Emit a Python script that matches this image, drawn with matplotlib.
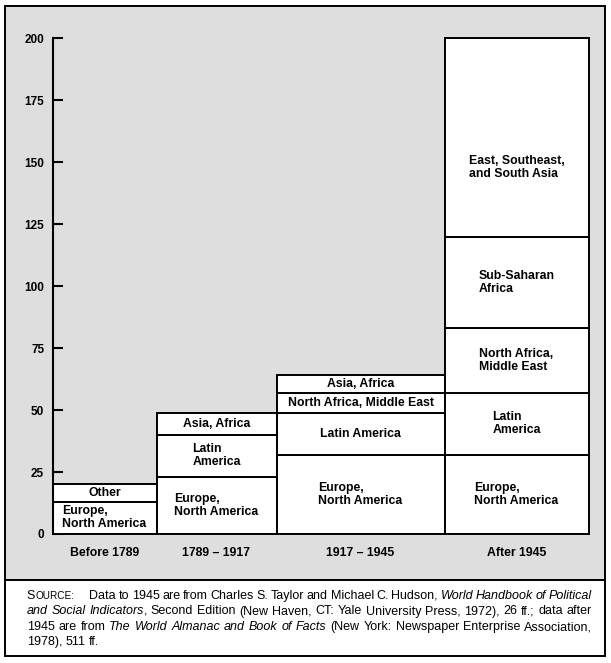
import matplotlib
matplotlib.use("Agg")
import matplotlib.pyplot as plt
from matplotlib.patches import Rectangle

# ── Data ────────────────────────────────────────────────────────────────
periods = ["Before 1789", "1789 – 1917", "1917 – 1945", "After 1945"]

labels_before_1789 = ["Europe,\nNorth America", "Other"]
counts_before_1789 = [13, 7]

labels_1789_1917 = ["Europe,\nNorth America", "Latin\nAmerica", "Asia, Africa"]
counts_1789_1917 = [23, 17, 9]

labels_1917_1945 = ["Europe,\nNorth America", "Latin America",
                    "North Africa, Middle East", "Asia, Africa"]
counts_1917_1945 = [32, 17, 8, 7]

labels_after_1945 = ["Europe,\nNorth America", "Latin\nAmerica", "North Africa,\nMiddle East",
                     "Sub-Saharan\nAfrica", "East, Southeast,\nand South Asia"]
counts_after_1945 = [32, 25, 26, 37, 80]

y_ticks = [0, 25, 50, 75, 100, 125, 150, 175, 200]

source_lines = [
    "Data to 1945 are from Charles S. Taylor and Michael C. Hudson, *World Handbook of Political*",
    "*and Social Indicators*, Second Edition (New Haven, CT: Yale University Press, 1972), 26 ff.; data after",
    "1945 are from *The World Almanac and Book of Facts* (New York: Newspaper Enterprise Association,",
    "1978), 511 ff.",
]

# ── Layout ──────────────────────────────────────────────────────────────
W, H = 611, 663
bar_widths = [104, 120, 168, 144]          # variable-width columns
label_frac = {(3, 4): 0.35}                 # label height inside segment (default middle)
LABEL_SIZE = 8.8
SRC_SIZE = 9.0

plt.rcParams["font.family"] = ["Liberation Sans", "DejaVu Sans"]

fig = plt.figure(figsize=(W / 100, H / 100), dpi=100)
fig.patch.set_facecolor("white")

# grey chart panel and white source panel
fig.patches.append(Rectangle((5 / W, 1 - 580 / H), 600 / W, 574 / H, transform=fig.transFigure,
                             facecolor="#dedede", edgecolor="black", lw=1.4, zorder=-2))
fig.patches.append(Rectangle((5 / W, 1 - 656 / H), 600 / W, 76 / H, transform=fig.transFigure,
                             facecolor="white", edgecolor="black", lw=1.4, zorder=-2))

ax = fig.add_axes([52.5 / W, 1 - 534 / H, sum(bar_widths) / W, (534 - 38.3) / H])
ax.set_facecolor("none")
ax.set_zorder(1)

all_counts = [counts_before_1789, counts_1789_1917, counts_1917_1945, counts_after_1945]
all_labels = [labels_before_1789, labels_1789_1917, labels_1917_1945, labels_after_1945]

centers = []
left = 0
for i, (counts, labels) in enumerate(zip(all_counts, all_labels)):
    w = bar_widths[i]
    bottom = 0
    for j, (c, lab) in enumerate(zip(counts, labels)):
        ax.bar(left, c, width=w, bottom=bottom, align="edge", color="white",
               edgecolor="black", lw=1.4, clip_on=False, zorder=2)
        frac = label_frac.get((i, j), 0.5)
        ax.text(left + w / 2, bottom + c * frac, lab, ha="center", va="center",
                multialignment="left", fontsize=LABEL_SIZE, fontweight="bold",
                linespacing=1.1, zorder=3)
        bottom += c
    centers.append(left + w / 2)
    left += w

ax.set_xlim(0, sum(bar_widths))
ax.set_ylim(0, 200)
ax.set_yticks(y_ticks)
ax.set_yticklabels([str(v) for v in y_ticks], fontweight="bold", fontsize=8.5)
ax.tick_params(axis="y", direction="in", length=7, width=1.5, pad=6)
ax.set_xticks(centers)
ax.set_xticklabels(periods, fontweight="bold", fontsize=LABEL_SIZE)
ax.tick_params(axis="x", length=0, pad=9)

for side in ["top", "right", "bottom"]:
    ax.spines[side].set_visible(False)
ax.spines["left"].set_linewidth(1.5)
ax.spines["left"].set_zorder(4)

# ── Source note (justified by hand) ─────────────────────────────────────
renderer = fig.canvas.get_renderer()


def parse(line):
    words, ital = [], False
    for raw in line.split(" "):
        pieces = []
        for k, part in enumerate(raw.split("*")):
            if k > 0:
                ital = not ital
            if part:
                pieces.append((part, ital))
        words.append(pieces)
    return words


def place_line(line, x0, x1, y, justify=True):
    items, widths = [], []
    for word in parse(line):
        texts, wsum = [], 0
        for piece, ital in word:
            t = fig.text(0, 1 - y / H, piece, fontsize=SRC_SIZE, va="baseline", ha="left",
                         style="italic" if ital else "normal")
            pw = t.get_window_extent(renderer).width
            texts.append((t, pw))
            wsum += pw
        items.append(texts)
        widths.append(wsum)
    if justify and len(items) > 1:
        gap = (x1 - x0 - sum(widths)) / (len(items) - 1)
    else:
        gap = 0.278 * SRC_SIZE * 100 / 72
    x = x0
    for texts, w in zip(items, widths):
        xx = x
        for t, pw in texts:
            t.set_x(xx / W)
            xx += pw
        x += w + gap


# small-caps "SOURCE:"
s = fig.text(26.7 / W, 1 - 599 / H, "S", fontsize=SRC_SIZE, va="baseline", ha="left")
sw = s.get_window_extent(renderer).width
fig.text((26.7 + sw) / W, 1 - 599 / H, "OURCE:", fontsize=SRC_SIZE * 0.8, va="baseline", ha="left")

baselines = [599, 614.5, 630, 645]
starts = [89.3, 26.7, 26.7, 26.7]
for k, line in enumerate(source_lines):
    place_line(line, starts[k], 592, baselines[k], justify=(k < len(source_lines) - 1))

fig.savefig("out.png", dpi=100)
